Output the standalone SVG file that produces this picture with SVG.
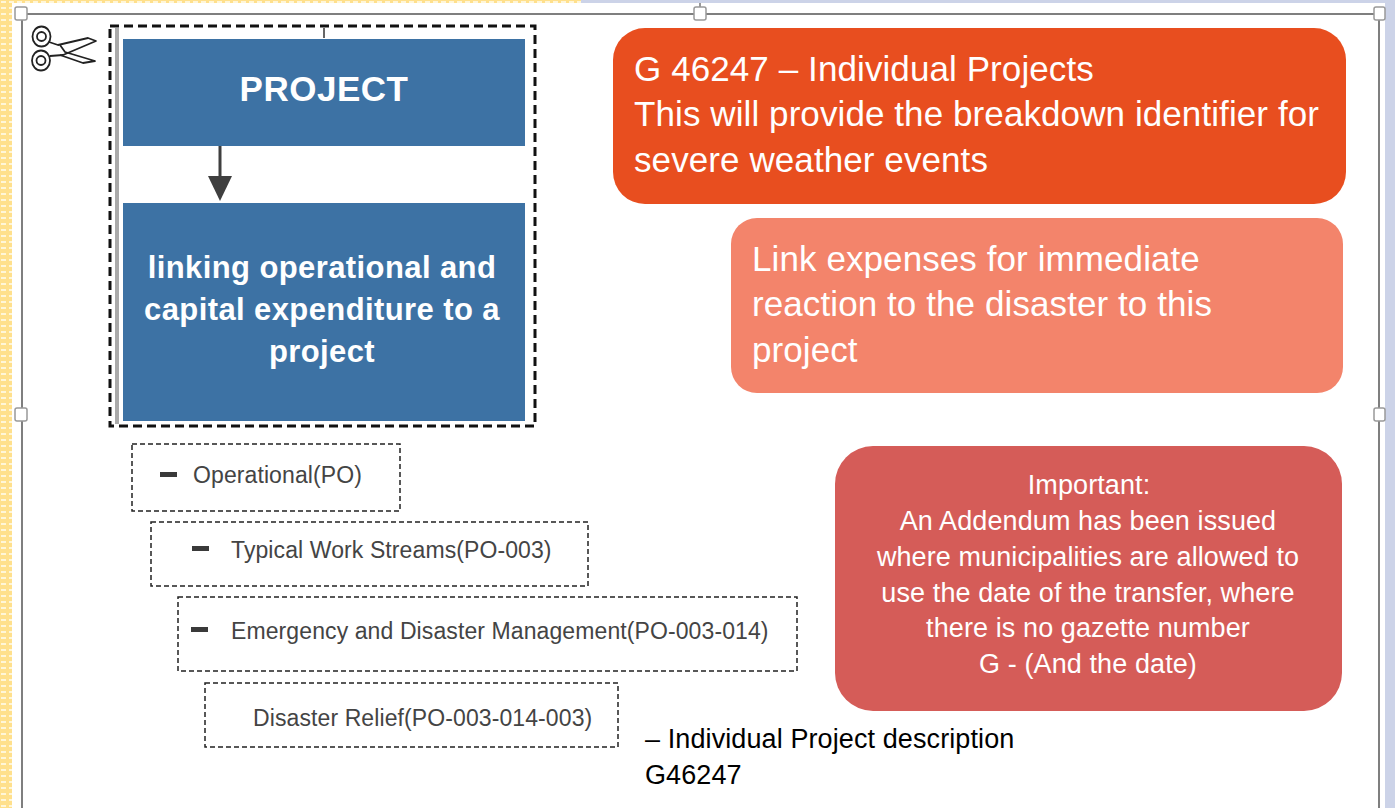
<svg xmlns="http://www.w3.org/2000/svg" width="1395" height="808" viewBox="0 0 1395 808">
<style>
text{font-family:"Liberation Sans",Arial,sans-serif}
.c{font-size:35px;fill:#fff;letter-spacing:.09px}
.i{font-size:27px;fill:#fff;text-anchor:middle;letter-spacing:.1px}
.b{font-weight:bold;fill:#fff;text-anchor:middle}
.d{fill:none;stroke:#222;stroke-width:1.5;stroke-dasharray:5 3}
.t{font-size:23px;fill:#444;letter-spacing:.1px}
.h{fill:#fff;stroke:#999;stroke-width:1.5}
.m{fill:#3a3a3a}
</style>
<defs>
<pattern id="y" width="8" height="6" patternUnits="userSpaceOnUse"><rect width="8" height="6" fill="#ffe08c"/><rect x="1" y="1" width="5" height="2" fill="#fff6d8"/></pattern>
<marker id="a" markerUnits="userSpaceOnUse" markerWidth="26" markerHeight="26" refX="0" refY="13" orient="auto"><path d="M0,1L25,13L0,25z" fill="#3f3f3f"/></marker>
</defs>
<rect width="1395" height="808" fill="#fff"/>
<rect width="581" height="3" fill="url(#y)"/>
<rect x="581" width="814" height="3" fill="#ccd3e8"/>
<rect width="12" height="808" fill="url(#y)"/>
<rect x="1385" width="10" height="808" fill="#ccd3e8"/>
<g id="frame">
<rect x="22" y="14" width="1357" height="800" fill="none" stroke="#7f7f7f" stroke-width="2"/>
<line x1="700" y1="3" x2="700" y2="7" stroke="#777" stroke-width="1.5"/>
<rect class="h" x="15" y="7" width="12" height="13" rx="2"/>
<rect class="h" x="694" y="7" width="12" height="13" rx="2"/>
<rect class="h" x="1374" y="7" width="11" height="13" rx="2"/>
<rect class="h" x="15" y="408" width="12" height="13" rx="2"/>
<rect class="h" x="1374" y="408" width="11" height="13" rx="2"/>
</g>
<g id="scissors" fill="none" stroke="#222" stroke-width="1.8" stroke-linejoin="round">
<ellipse cx="41.500" cy="36.500" rx="9" ry="10"/><circle cx="41.500" cy="36.500" r="4.500"/>
<ellipse cx="41" cy="60.500" rx="9" ry="10"/><circle cx="41" cy="60.500" r="4.500"/>
<path d="M49,42L58,45L88,38L96,41L63,55L50,56"/>
<path d="M60,45L65,52L95,61L83,63L60,55"/>
</g>
<g id="project-frame">
<rect x="110" y="26" width="425" height="400" fill="none" stroke="#111" stroke-width="3" stroke-dasharray="9 5"/>
<rect x="115" y="28" width="4" height="396" fill="#aaa"/>
<line x1="324" y1="28" x2="324" y2="38" stroke="#666" stroke-width="2"/>
</g>
<g id="connectors"><line x1="220" y1="146" x2="220" y2="176" stroke="#3f3f3f" stroke-width="3" marker-end="url(#a)"/></g>
<g id="project"><rect x="123" y="39" width="402" height="107" fill="#3d72a4"/><text class="b" x="324" y="101" font-size="35" letter-spacing=".5">PROJECT</text></g>
<g id="linking"><rect x="123" y="203" width="402" height="218" fill="#3d72a4"/>
<text class="b" font-size="31" letter-spacing=".4"><tspan x="322" y="278">linking operational and</tspan><tspan x="322" y="320">capital expenditure to a</tspan><tspan x="322" y="362">project</tspan></text></g>
<g id="individual-projects"><rect x="613" y="28" width="733" height="176" rx="32" fill="#e84e1f"/>
<text class="c"><tspan x="634" y="81">G 46247 – Individual Projects</tspan><tspan x="634" y="126">This will provide the breakdown identifier for</tspan><tspan x="634" y="172">severe weather events</tspan></text></g>
<g id="link-expenses"><rect x="731" y="218" width="612" height="175" rx="26" fill="#f3846b"/>
<text class="c"><tspan x="752" y="271">Link expenses for immediate</tspan><tspan x="752" y="316">reaction to the disaster to this</tspan><tspan x="752" y="362">project</tspan></text></g>
<g id="important"><rect x="835" y="446" width="507" height="265" rx="38" fill="#d55c58"/>
<text class="i"><tspan x="1089" y="494">Important:</tspan><tspan x="1088" y="530">An Addendum has been issued</tspan><tspan x="1088" y="566">where municipalities are allowed to</tspan><tspan x="1088" y="602">use the date of the transfer, where</tspan><tspan x="1088" y="637">there is no gazette number</tspan><tspan x="1088" y="673">G - (And the date)</tspan></text></g>
<g id="operational"><rect class="d" x="132" y="444" width="268" height="67"/><rect class="m" x="160" y="472" width="17" height="5"/><text class="t" x="193" y="483">Operational(PO)</text></g>
<g id="streams"><rect class="d" x="151" y="522" width="437" height="64"/><rect class="m" x="192" y="546" width="17" height="5"/><text class="t" x="231" y="558">Typical Work Streams(PO-003)</text></g>
<g id="emergency"><rect class="d" x="178" y="597" width="619" height="74"/><rect class="m" x="191" y="627" width="17" height="5"/><text class="t" x="231" y="639">Emergency and Disaster Management(PO-003-014)</text></g>
<g id="relief"><rect class="d" x="205" y="683" width="413" height="64"/><text class="t" x="253" y="726">Disaster Relief(PO-003-014-003)</text></g>
<g id="description"><text font-size="27" fill="#000" letter-spacing=".1"><tspan x="645" y="748">– Individual Project description</tspan><tspan x="645" y="784">G46247</tspan></text></g>
</svg>
